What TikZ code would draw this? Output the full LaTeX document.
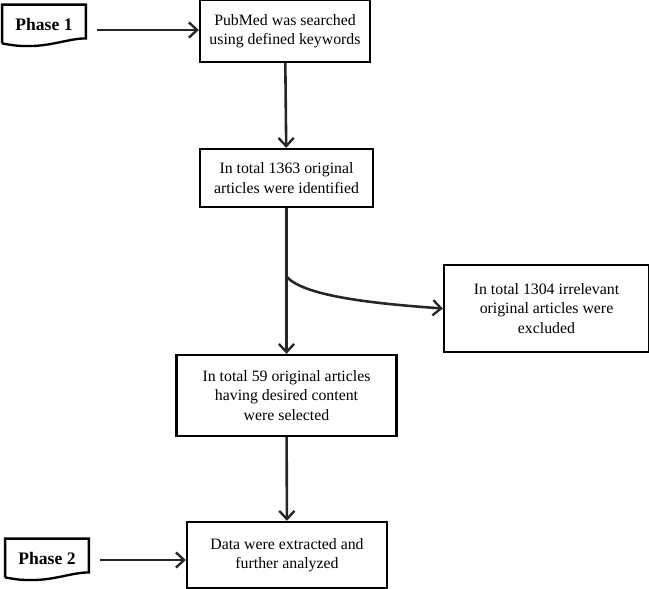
\documentclass[tikz,border=0pt]{standalone}
\usepackage{fontspec}
\setmainfont{Liberation Serif}
\usetikzlibrary{arrows.meta, positioning}

\begin{document}
\begin{tikzpicture}[
  x=0.03cm, y=-0.03cm,
  box/.style={
    rectangle,
    draw,
    line width=2pt,
    minimum width=#1,
    align=center,
    font=\fontsize{13.5}{16.5}\selectfont,
    inner sep=2pt
  },
  phase/.style={
    rectangle,
    minimum width=2.5cm,
    minimum height=1.15cm,
    font=\fontsize{15}{18}\selectfont\bfseries
  },
  flow/.style={
    -{Straight Barb[length=7pt,width=13pt,line width=2pt]},
    line width=2.2pt,
    draw=black!85
  }
]
% fixes the frame
\path[use as bounding box] (0,0) rectangle (649,588);

% Main boxes
\node[box=5.1cm, minimum height=1.86cm] (search) at (285,31) {PubMed was searched\\using defined keywords};
\node[box=5.2cm, minimum height=1.74cm] (ident) at (286.5,178) {In total 1363 original\\articles were identified};
\node[box=6.15cm, minimum height=2.6cm] (excl) at (546.5,308.5) {In total 1304 irrelevant\\original articles were\\excluded};
\node[box=6.6cm, minimum height=2.43cm] (select) at (286.5,395.5) {In total 59 original articles\\having desired content\\were selected};
\node[box=6.0cm, minimum height=1.98cm] (data) at (287,555) {Data were extracted and\\further analyzed};

% Phase labels
\node[phase] (ph1) at (44,24) {Phase 1};
\node[phase] (ph2) at (47,558) {Phase 2};
\foreach \p in {ph1,ph2}{
  \draw[line width=2pt] (\p.south west) -- (\p.north west) -- (\p.north east)
    -- ([yshift=0.15cm]\p.south east)
    .. controls +(-0.5cm,0) and +(0.7cm,0) .. ([xshift=0.8cm,yshift=-0.08cm]\p.south west)
    .. controls +(-0.4cm,0) and +(0.3cm,-0.05cm) .. (\p.south west);
}

% Connections
\coordinate (split) at (287,277);
\coordinate (a1) at (97,30);
\coordinate (a2) at (100,560);
\draw[flow] (a1) -- (a1 -| search.west);
\draw[flow] (a2) -- (a2 -| data.west);
\draw[flow] (search) -- (ident);
\draw[flow] (ident) -- (select);
\draw[flow] (select) -- (data);
\draw[flow] (split) .. controls (305,297) and (380,304) .. (excl.west);
\end{tikzpicture}
\end{document}
